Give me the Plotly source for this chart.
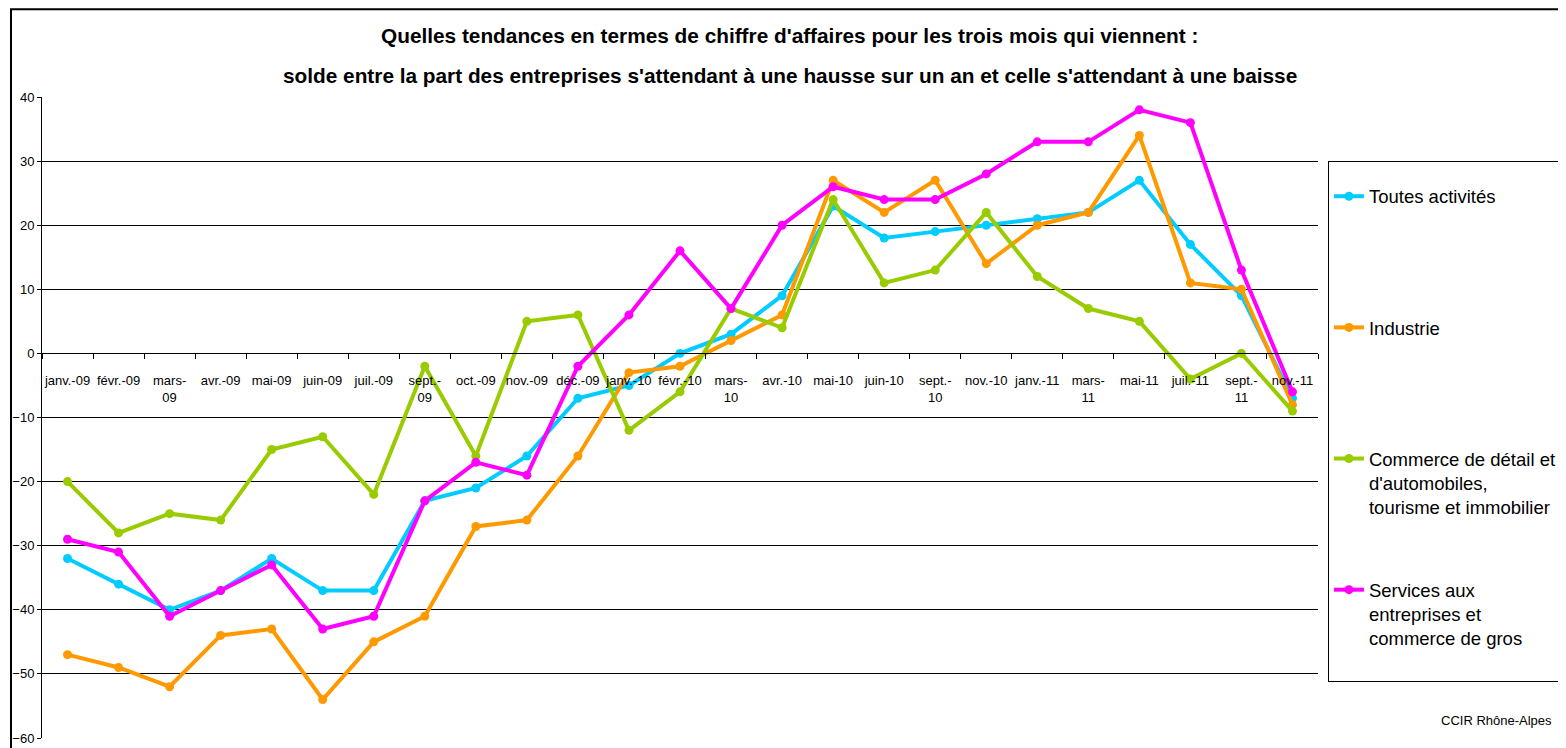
import plotly.graph_objects as go

categories = ["janv.-09", "févr.-09", "mars-09", "avr.-09", "mai-09", "juin-09", "juil.-09",
              "sept.-09", "oct.-09", "nov.-09", "déc.-09", "janv.-10", "févr.-10", "mars-10",
              "avr.-10", "mai-10", "juin-10", "sept.-10", "nov.-10", "janv.-11", "mars-11",
              "mai-11", "juil.-11", "sept.-11", "nov.-11"]
tick_labels = ["janv.-09", "févr.-09", "mars-<br>09", "avr.-09", "mai-09", "juin-09", "juil.-09",
               "sept.-<br>09", "oct.-09", "nov.-09", "déc.-09", "janv.-10", "févr.-10", "mars-<br>10",
               "avr.-10", "mai-10", "juin-10", "sept.-<br>10", "nov.-10", "janv.-11", "mars-<br>11",
               "mai-11", "juil.-11", "sept.-<br>11", "nov.-11"]

toutes = [-32, -36, -40, -37, -32, -37, -37, -23, -21, -16, -7, -5, 0, 3, 9, 23, 18, 19, 20, 21, 22, 27, 17, 9, -7]
industrie = [-47, -49, -52, -44, -43, -54, -45, -41, -27, -26, -16, -3, -2, 2, 6, 27, 22, 27, 14, 20, 22, 34, 11, 10, -8]
commerce = [-20, -28, -25, -26, -15, -13, -22, -2, -16, 5, 6, -12, -6, 7, 4, 24, 11, 13, 22, 12, 7, 5, -4, 0, -9]
services = [-29, -31, -41, -37, -33, -43, -41, -23, -17, -19, -2, 6, 16, 7, 20, 26, 24, 24, 28, 33, 33, 38, 36, 13, -6]

series_names = ["Toutes activités<br> <br> ",
                "Industrie<br> <br> ",
                "Commerce de détail et<br>d'automobiles,<br>tourisme et immobilier",
                "Services aux<br>entreprises et<br>commerce de gros<br> "]
series_values = [toutes, industrie, commerce, services]
series_colors = ["#00CCFF", "#FF9900", "#99CC00", "#FF00FF"]

FONT = "Liberation Sans, Arial, sans-serif"

fig = go.Figure()
for name, vals, col in zip(series_names, series_values, series_colors):
    fig.add_trace(go.Scatter(
        x=categories, y=vals, name=name, mode="lines+markers",
        line=dict(color=col, width=4),
        marker=dict(color=col, size=9),
        legendgroup=name,
    ))

# page is shown with an 8px body margin, so the figure is 8px smaller on each axis
fig.update_layout(
    width=1558, height=740,
    margin=dict(l=34, r=248, t=89, b=10, autoexpand=False),
    paper_bgcolor="white", plot_bgcolor="white",
    font=dict(family=FONT, color="black", size=13),
    showlegend=True,
    legend=dict(
        x=1.0078, y=0.900, xanchor="left", yanchor="top",
        bordercolor="black", borderwidth=1,
        font=dict(family=FONT, size=18.5, color="black"),
        title=dict(text=" ", font=dict(family=FONT, size=12)),
        tracegroupgap=56, valign="top", itemwidth=30,
        traceorder="grouped",
    ),
    xaxis=dict(
        type="category", categoryorder="array", categoryarray=categories,
        tickmode="array", tickvals=categories, ticktext=tick_labels,
        anchor="free", position=0.6, automargin=False,
        showline=True, linecolor="black", linewidth=1,
        ticks="outside", tickson="boundaries", ticklen=5, tickcolor="black",
        ticklabelstandoff=15,
        showgrid=False, zeroline=False,
        tickfont=dict(family=FONT, size=13, color="black"),
        tickangle=0, range=[-0.5, 24.5],
    ),
    yaxis=dict(
        range=[-60, 40], dtick=10, tick0=0, automargin=False,
        showgrid=True, gridcolor="black", gridwidth=1,
        showline=True, linecolor="black", linewidth=1,
        ticks="outside", ticklen=4, tickcolor="black",
        zeroline=False,
        tickfont=dict(family=FONT, size=13, color="black"),
    ),
    shapes=[
        dict(type="rect", xref="paper", yref="paper",
             x0=-0.0243, x1=1.25, y0=-0.0343, y1=1.137,
             line=dict(color="black", width=2), fillcolor="rgba(0,0,0,0)", layer="below"),
    ],
    annotations=[
        dict(text="<b>Quelles tendances en termes de chiffre d'affaires pour les trois mois qui viennent :</b>",
             xref="paper", yref="paper", x=0.586, y=1.0966, xanchor="center", yanchor="middle",
             showarrow=False, font=dict(family=FONT, size=20.8, color="black")),
        dict(text="<b>solde entre la part des entreprises s'attendant à une hausse sur un an et celle s'attendant à une baisse</b>",
             xref="paper", yref="paper", x=0.586, y=1.0343, xanchor="center", yanchor="middle",
             showarrow=False, font=dict(family=FONT, size=20.8, color="black")),
        dict(text="CCIR Rhône-Alpes", xref="paper", yref="paper",
             x=(1554 - 42) / 1276, y=(738 - 720) / 641, xanchor="right", yanchor="middle",
             showarrow=False, font=dict(family=FONT, size=13, color="black")),
    ],
)

fig.write_html("out.html")
